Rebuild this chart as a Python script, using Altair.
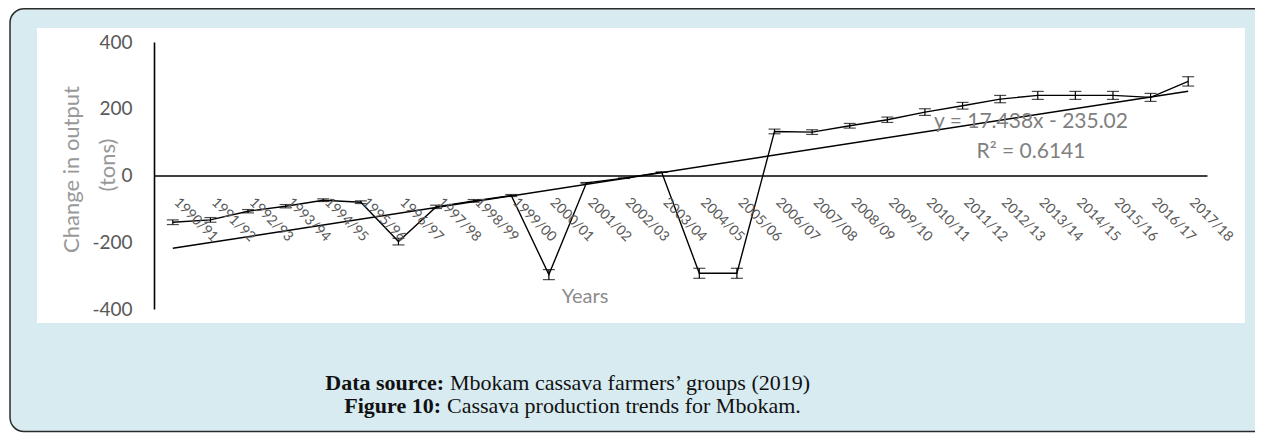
import altair as alt
import pandas as pd

categories = ["1990/91", "1991/92", "1992/93", "1993/94", "1994/95", "1995/96", "1996/97",
              "1997/98", "1998/99", "1999/00", "2000/01", "2001/02", "2002/03", "2003/04",
              "2004/05", "2005/06", "2006/07", "2007/08", "2008/09", "2009/10", "2010/11",
              "2011/12", "2012/13", "2013/14", "2014/15", "2015/16", "2016/17", "2017/18"]
values = [-140, -133, -107, -92, -74, -80, -198, -94, -76, -60, -297, -22, -8, 10,
          -293, -293, 132, 130, 149, 167, 190, 209, 229, 240, 240, 240, 234, 282]
errors = [7, 7, 5, 5, 4, 4, 10, 5, 4, 3, 15, 1, 1, 1,
          15, 15, 7, 7, 7, 8, 10, 10, 11, 12, 12, 12, 12, 14]
y_ticks = [-400, -200, 0, 200, 400]

df = pd.DataFrame({
    "idx": list(range(1, len(categories) + 1)),
    "cat": categories,
    "val": values,
    "lo": [v - e for v, e in zip(values, errors)],
    "hi": [v + e for v, e in zip(values, errors)],
})
one = pd.DataFrame({"k": [0]})

x_enc = alt.X("idx:Q",
              scale=alt.Scale(domain=[0.5, 28.5], nice=False, zero=False),
              axis=alt.Axis(values=list(range(1, 29)), labels=False,
                            ticks=False, tickSize=0, grid=False,
                            domainColor="#000000", domainWidth=1.6,
                            offset=-133.5, title=None, zindex=1))
y_enc = alt.Y("val:Q",
              scale=alt.Scale(domain=[-400, 400], nice=False),
              axis=alt.Axis(values=y_ticks, labelExpr="datum.value + ''",
                            labelFont="Lato", labelFontSize=19,
                            labelColor="#595959", labelPadding=22,
                            ticks=False, tickSize=0, grid=False,
                            domainColor="#000000", domainWidth=1.6,
                            title=None, zindex=1))

base = alt.Chart(df)

outer = alt.Chart(one).mark_rect(fill="#d7ebf0", stroke="#2b2b2b", strokeWidth=1.5,
                                 cornerRadius=14).encode(
    x=alt.value(-144), x2=alt.value(1115), y=alt.value(-33.2), y2=alt.value(389.5))
panel = alt.Chart(one).mark_rect(fill="#ffffff").encode(
    x=alt.value(-117), x2=alt.value(1091), y=alt.value(-14), y2=alt.value(281))

series = base.mark_line(color="#000000", strokeWidth=1.4).encode(x=x_enc, y=y_enc)
err_rule = base.mark_rule(color="#000000", strokeWidth=1.2).encode(
    x="idx:Q", y="lo:Q", y2="hi:Q")
err_lo = base.mark_tick(orient="horizontal", size=12, thickness=1.2, color="#000000").encode(
    x="idx:Q", y="lo:Q")
err_hi = base.mark_tick(orient="horizontal", size=12, thickness=1.2, color="#000000").encode(
    x="idx:Q", y="hi:Q")
trend = base.transform_regression("idx", "val", extent=[1, 28]).mark_line(
    color="#000000", strokeWidth=1.5).encode(x="idx:Q", y="val:Q")
x_labels = base.mark_text(font="Lato", fontSize=14, color="#595959", angle=45,
                          align="left", baseline="middle", dx=5).encode(
    x="idx:Q", y=alt.value(155), text="cat:N")


def label(text, x, y, size=20, color="#8c8c8c", font="Lato", weight="normal",
          align="center", angle=0):
    return alt.Chart(one).mark_text(font=font, fontSize=size, color=color, fontWeight=weight,
                                    align=align, baseline="middle", angle=angle).encode(
        x=alt.value(x), y=alt.value(y), text=alt.value(text))


texts = [
    label("Change in output", -82, 127.5, size=22, color="#999999", angle=270),
    label("(tons)", -46, 123, size=22, color="#999999", angle=270),
    label("Years", 431, 255, size=20, color="#8c8c8c"),
    label("y = 17.438x - 235.02", 877, 80, size=21, color="#7f7f7f"),
    label("R² = 0.6141", 877, 110, size=21, color="#7f7f7f"),
    label("Data source:", 290, 340.5, size=22, color="#111111", font="Liberation Serif",
          weight="bold", align="right"),
    label("Mbokam cassava farmers’ groups (2019)", 296, 340.5, size=22, color="#111111",
          font="Liberation Serif", align="left"),
    label("Figure 10:", 287, 363.5, size=22, color="#111111", font="Liberation Serif",
          weight="bold", align="right"),
    label("Cassava production trends for Mbokam.", 293, 363.5, size=22, color="#111111",
          font="Liberation Serif", align="left"),
]

chart = alt.layer(outer, panel, series, err_rule, err_lo, err_hi, trend, x_labels,
                  *texts).properties(
    width=1053, height=267,
    padding={"left": 146, "top": 34, "right": 48, "bottom": 125},
    autosize=alt.AutoSizeParams(type="none"),
    background="#ffffff",
).configure_view(strokeWidth=0)

chart.save("out.html", embed_options={"renderer": "svg", "actions": False})
